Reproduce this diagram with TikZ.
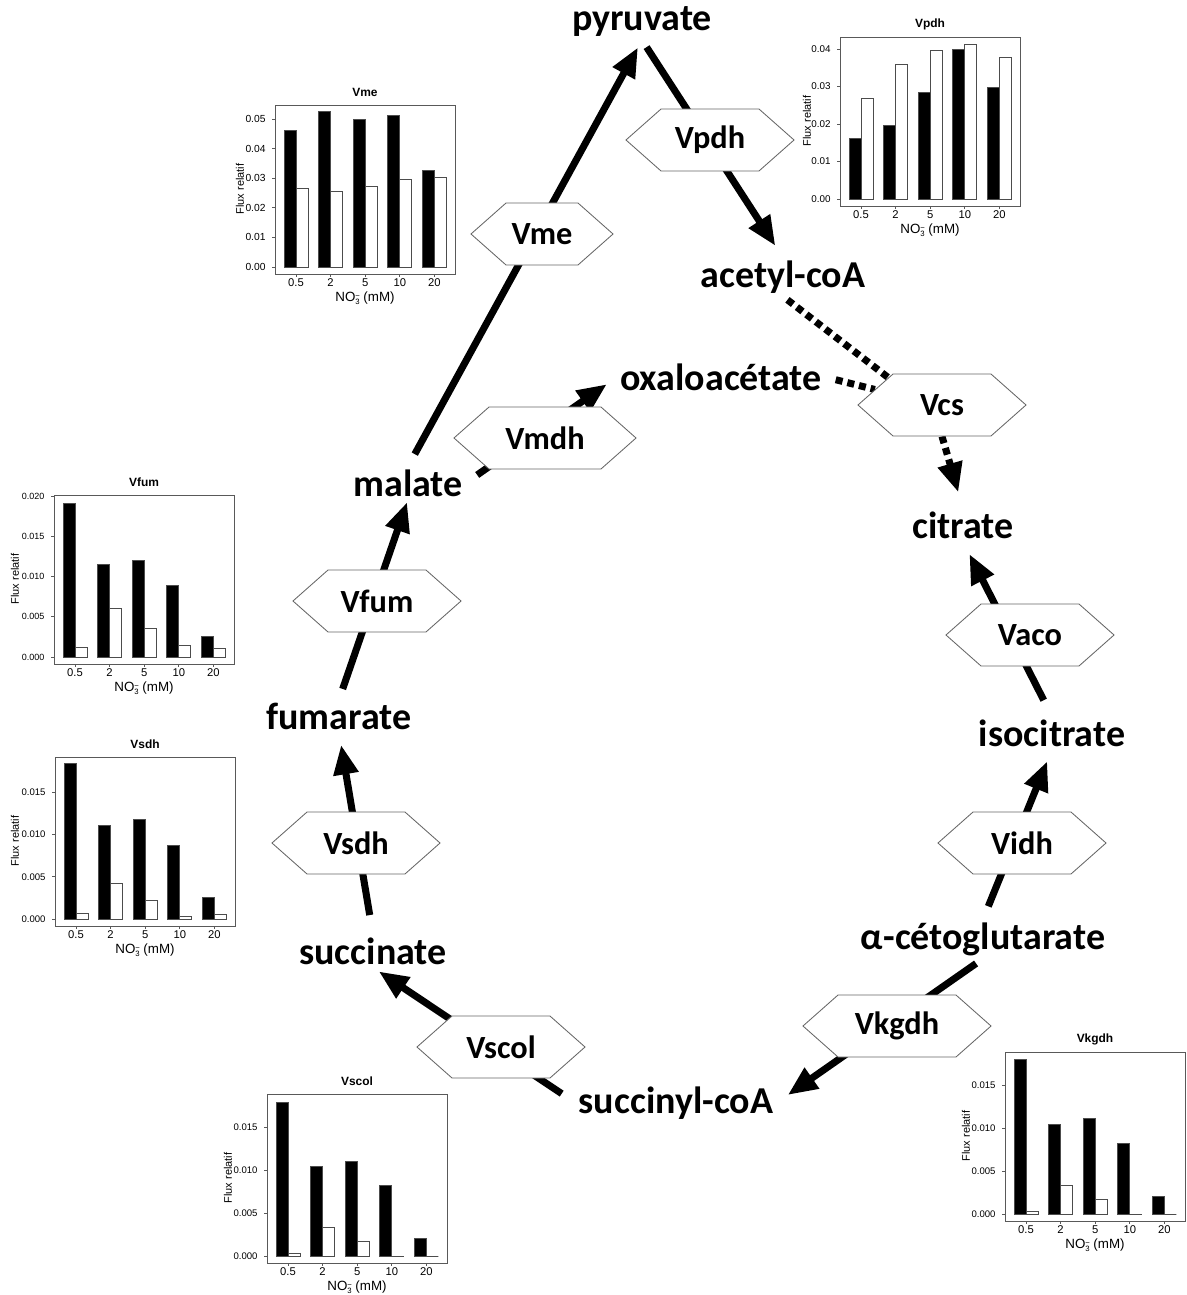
\documentclass[tikz,border=0pt]{standalone}
\usepackage{fontspec}
\setmainfont{Carlito}
\newfontfamily\chartfont{Liberation Sans}
\usetikzlibrary{arrows.meta,shapes.symbols,backgrounds}

\newcommand{\nitrate}{NO\rlap{\raisebox{0.45ex}{\fontsize{5.5}{6}\selectfont\textminus}}\raisebox{-0.4ex}{\fontsize{5.5}{6}\selectfont 3}}

\tikzset{
  metab/.style={font=\bfseries\fontsize{27}{30}\selectfont, inner sep=2pt},
  enzyme/.style={signal, signal to=west and east, signal pointer angle=83,
    draw=black!60, line width=0.6pt, fill=white, inner sep=0pt,
    minimum width=4.2cm, minimum height=1.55cm,
    font=\bfseries\fontsize{23}{26}\selectfont},
  flux/.style={line width=5pt, -{Triangle[length=21pt,width=17pt]}},
  dotflux/.style={line width=5pt, dash pattern=on 5pt off 3.5pt},
  panel/.style={draw=black!65, line width=0.7pt},
  tickline/.style={draw=black!65, line width=0.6pt},
  blackbar/.style={draw=black!70, fill=black, line width=0.6pt},
  whitebar/.style={draw=black!70, fill=white, line width=0.6pt},
}

% #1 origin (panel left, zero line), #2 title, #3 px per unit, #4 ticks, #5 bars,
% #6 tick label size, #7 x of the y title
\newcommand{\fluxchart}[7]{%
  \begin{scope}[shift={#1}, font=\chartfont\fontsize{8}{9}\selectfont]
    \draw[panel, fill=white] (0,7) rectangle (180,-162);
    \node[font=\chartfont\bfseries\fontsize{8.5}{10}\selectfont] at (90,-175) {#2};
    \foreach \val/\lab in {#4}
      \draw[tickline] (-3,-\val*#3) -- (0,-\val*#3)
        node[left=1pt, pos=0, font=\chartfont\fontsize{#6}{#6}\selectfont] {\lab};
    \foreach \blk/\wht [count=\n] in {#5} {
      \pgfmathsetmacro{\bx}{21+34.6*(\n-1)}
      \draw[blackbar] (\bx-12,0) rectangle (\bx,-\blk*#3);
      \draw[whitebar] (\bx,0) rectangle (\bx+12,-\wht*#3);
    }
    \foreach \tk [count=\n] in {0.5,2,5,10,20}
      \draw[tickline] (21+34.6*\n-34.6,7) -- ++(0,3) node[below=0pt, inner sep=1.2pt] {\tk};
    \node[rotate=90, font=\chartfont\fontsize{7.8}{9}\selectfont] at (#7,-78) {Flux relatif};
    \node[font=\chartfont\fontsize{9.5}{10}\selectfont, inner sep=0pt] at (90,31.5) {\nitrate{} (mM)};
  \end{scope}}

\begin{document}
\begin{tikzpicture}[x=0.025cm, y=-0.025cm]
  \useasboundingbox (0,0) rectangle (1186,1295);

  % metabolites
  \node[metab] (pyruvate) at (642,22) {pyruvate};
  \node[metab] (acetyl) at (783,277) {acetyl-coA};
  \node[metab] (oxalo) at (721,377) {oxaloacétate};
  \node[metab] (citrate) at (963,525) {citrate};
  \node[metab] (isocitrate) at (1052,733) {isocitrate};
  \node[metab] (alpha) at (983,939) {α-cétoglutarate};
  \node[metab] (succinyl) at (676,1103) {succinyl-coA};
  \node[metab] (succinate) at (373,951) {succinate};
  \node[metab] (fumarate) at (339,716) {fumarate};
  \node[metab] (malate) at (408,483) {malate};

  % enzymes
  \node[enzyme, minimum width=3.55cm] (vme) at (542,234) {Vme};
  \node[enzyme] (vpdh) at (710,140) {Vpdh};
  \node[enzyme, minimum width=4.55cm] (vmdh) at (545,438) {Vmdh};
  \node[enzyme] (vcs) at (942,405) {Vcs};
  \node[enzyme] (vfum) at (377,601) {Vfum};
  \node[enzyme] (vaco) at (1030,635) {Vaco};
  \node[enzyme] (vsdh) at (356,843) {Vsdh};
  \node[enzyme] (vidh) at (1022,843) {Vidh};
  \node[enzyme] (vscol) at (501,1047) {Vscol};
  \node[enzyme, minimum width=4.7cm] (vkgdh) at (897,1026) {Vkgdh};

  \begin{scope}[on background layer]
    \fill[white] (0,0) rectangle (1186,1295);
    \draw[flux, shorten <=10pt, shorten >=6pt] (malate.north) -- (pyruvate.south);
    \draw[flux, shorten <=6pt, shorten >=10pt] (pyruvate.south) -- (acetyl.north);
    \draw[flux, shorten <=10pt, shorten >=9pt] (malate.east) -- (oxalo.west);
    \draw[flux, shorten <=8pt, shorten >=2pt] (fumarate.north) -- (malate.south);
    \draw[flux, shorten <=14pt, shorten >=9pt] (succinate.north) -- (fumarate.south);
    \draw[flux, shorten <=12pt, shorten >=5pt] (succinyl.west) -- (succinate.south);
    \draw[flux, shorten <=6pt, shorten >=10pt] (alpha.south) -- (succinyl.east);
    \draw[flux, shorten <=10pt, shorten >=9pt] (alpha.north) -- (isocitrate.south);
    \draw[flux, shorten <=13pt, shorten >=10pt] (isocitrate.north) -- (citrate.south);
    \draw[dotflux, shorten <=4pt] (acetyl.south) -- (vcs.153);
    \draw[dotflux, shorten <=8pt] (oxalo.east) -- (vcs.167);
    \draw[dotflux, -{Triangle[length=21pt,width=17pt]}, shorten >=12pt] (vcs.south) -- (citrate.north);
  \end{scope}

  % flux charts
  \fluxchart{(275,267)}{Vme}{2960}{0/0.00,0.01/0.01,0.02/0.02,0.03/0.03,0.04/0.04,0.05/0.05}{0.046/0.0265,0.0525/0.0254,0.050/0.0271,0.0512/0.0295,0.0326/0.0302}{7.3}{-35}
  \fluxchart{(840,199)}{Vpdh}{3750}{0/0.00,0.01/0.01,0.02/0.02,0.03/0.03,0.04/0.04}{0.0162/0.0268,0.0196/0.0359,0.0284/0.0396,0.0398/0.0413,0.0298/0.0378}{7}{-33}
  \fluxchart{(54,657)}{Vfum}{8050}{0/0.000,0.005/0.005,0.01/0.010,0.015/0.015,0.02/0.020}{0.0191/0.0012,0.0115/0.0060,0.0120/0.0035,0.0089/0.0015,0.0026/0.0011}{6.4}{-39}
  \fluxchart{(55,919)}{Vsdh}{8444}{0/0.000,0.005/0.005,0.01/0.010,0.015/0.015}{0.0184/0.0007,0.0111/0.0042,0.0118/0.0022,0.0087/0.0003,0.0025/0.0006}{6.8}{-40}
  \fluxchart{(267,1256)}{Vscol}{8556}{0/0.000,0.005/0.005,0.01/0.010,0.015/0.015}{0.0180/0.0003,0.0105/0.0033,0.0111/0.0017,0.0082/0,0.0020/0}{6.8}{-39}
  \fluxchart{(1005,1214)}{Vkgdh}{8578}{0/0.000,0.005/0.005,0.01/0.010,0.015/0.015}{0.0180/0.0003,0.0105/0.0033,0.0111/0.0017,0.0082/0,0.0020/0}{6.8}{-39}
\end{tikzpicture}
\end{document}
